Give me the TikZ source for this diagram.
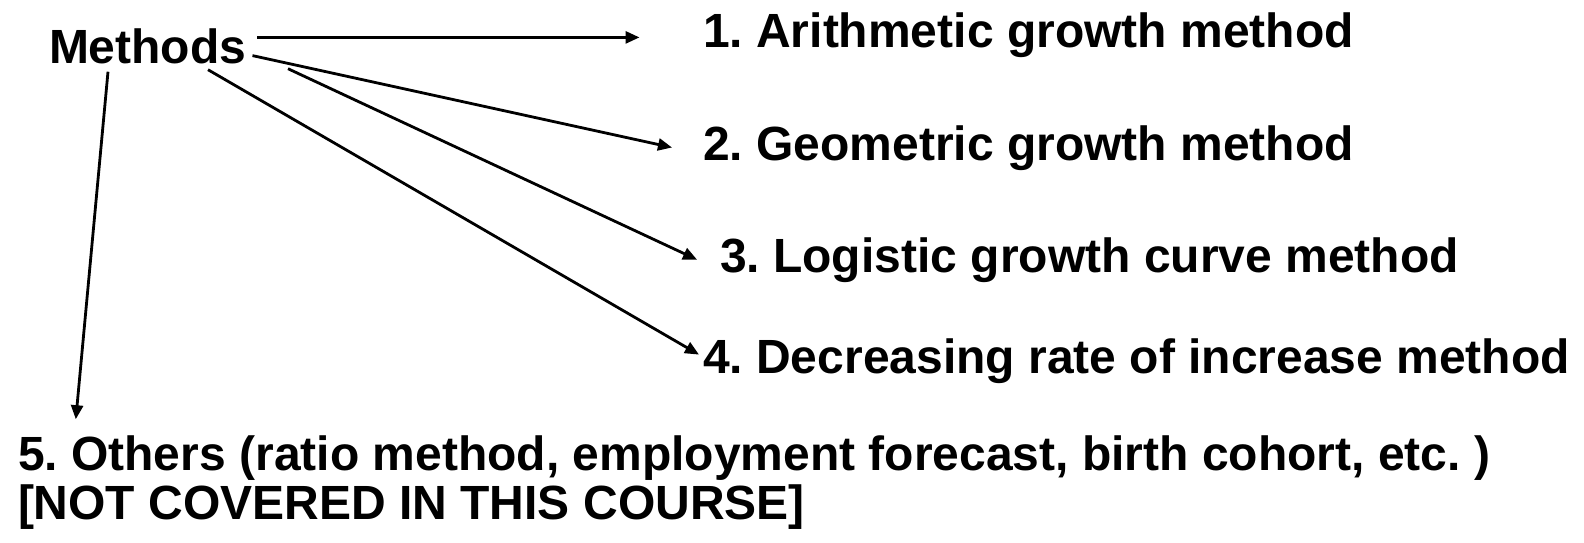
\documentclass[tikz,border=0pt]{standalone}
\usepackage{fontspec}
\setmainfont{Liberation Sans}
\usetikzlibrary{arrows.meta}
\frenchspacing
\begin{document}
\begin{tikzpicture}[x=1pt,y=-1pt,
  lbl/.style={inner sep=0pt,outer sep=0pt,anchor=base west,font=\fontsize{48}{49}\selectfont\bfseries},
  conn/.style={line width=2.8pt,-{Triangle[length=14pt,width=12pt]}}]
\useasboundingbox (0,0) rectangle (1584,542);
\node[lbl] (m) at (49,63.6) {Methods};
\node[lbl] (t1) at (703,47.5) {1. Arithmetic growth method};
\node[lbl] (t2) at (703,160.6) {2. Geometric growth method};
\node[lbl] (t3) at (720,272.7) {3. Logistic growth curve method};
\node[lbl] (t4) at (703,373.8) {4. Decreasing rate of increase method};
\node[lbl,align=left,anchor=north west] (t5) at (18,436) {5. Others (ratio method, employment forecast, birth cohort, etc. )\\{}[NOT COVERED IN THIS COURSE]};
\coordinate (s1) at (257,37.4);
\coordinate (s2) at (252.5,55.6);
\coordinate (s3) at (288,68.7);
\coordinate (s4) at (208,69.7);
\coordinate (s5) at (108,71.7);
\coordinate (e1) at (639.5,37.4);
\coordinate (e2) at (672,147.5);
\coordinate (e3) at (697,259.6);
\coordinate (e4) at (699,354.6);
\coordinate (e5) at (75.8,419.2);
\draw[conn] (s1) -- (e1);
\draw[conn] (s2) -- (e2);
\draw[conn] (s3) -- (e3);
\draw[conn] (s4) -- (e4);
\draw[conn] (s5) -- (e5);
\end{tikzpicture}
\end{document}
